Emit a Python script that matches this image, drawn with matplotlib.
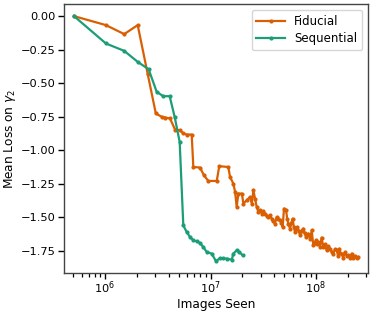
import numpy as np
import matplotlib
matplotlib.use("Agg")
import matplotlib.pyplot as plt

# fiducial run (images seen, mean loss)
fid_x = [5.08e5, 1.02e6, 1.52e6, 2.04e6, 2.54e6, 3.03e6, 3.45e6, 3.70e6, 4.13e6, 4.61e6,
         5.14e6, 5.52e6, 5.94e6, 6.63e6, 6.87e6, 7.94e6, 8.67e6, 9.52e6, 1.145e7, 1.21e7,
         1.475e7, 1.53e7, 1.645e7, 1.71e7, 1.77e7, 1.835e7, 1.98e7, 2.05e7, 2.20e7, 2.37e7,
         2.46e7, 2.55e7, 2.64e7, 2.74e7, 2.84e7, 2.95e7, 3.06e7, 3.17e7, 3.29e7, 3.41e7,
         3.53e7, 3.66e7, 3.80e7, 3.94e7, 4.08e7, 4.23e7, 4.39e7, 4.56e7, 4.70e7, 4.83e7,
         4.97e7, 5.20e7, 5.33e7, 5.46e7, 5.67e7, 5.85e7, 6.01e7, 6.15e7, 6.32e7, 6.50e7,
         6.65e7, 6.85e7, 7.05e7, 7.30e7, 7.58e7, 7.80e7, 8.04e7, 8.25e7, 8.45e7, 8.80e7,
         9.10e7, 9.42e7, 9.70e7, 1.00e8, 1.03e8, 1.05e8, 1.09e8, 1.13e8, 1.17e8, 1.21e8,
         1.26e8, 1.31e8, 1.36e8, 1.41e8, 1.46e8, 1.51e8, 1.57e8, 1.62e8, 1.66e8, 1.70e8,
         1.75e8, 1.81e8, 1.88e8, 1.95e8, 2.02e8, 2.10e8, 2.18e8, 2.26e8, 2.34e8, 2.43e8,
         2.52e8]
fid_y = [0.0, -0.067, -0.134, -0.067, -0.433, -0.726, -0.751, -0.756, -0.763, -0.846,
         -0.851, -0.875, -0.883, -0.883, -1.125, -1.129, -1.187, -1.229, -1.229, -1.119,
         -1.125, -1.199, -1.249, -1.311, -1.423, -1.323, -1.323, -1.398, -1.373, -1.349,
         -1.398, -1.299, -1.360, -1.423, -1.460, -1.448, -1.472, -1.455, -1.472, -1.490,
         -1.498, -1.485, -1.510, -1.530, -1.547, -1.500, -1.510, -1.522, -1.545, -1.572,
         -1.435, -1.448, -1.510, -1.547, -1.584, -1.540, -1.510, -1.570, -1.610, -1.590,
         -1.572, -1.600, -1.634, -1.600, -1.584, -1.620, -1.647, -1.630, -1.622, -1.660,
         -1.597, -1.709, -1.690, -1.672, -1.700, -1.684, -1.720, -1.651, -1.722, -1.700,
         -1.746, -1.715, -1.734, -1.760, -1.771, -1.740, -1.746, -1.790, -1.734, -1.770,
         -1.771, -1.800, -1.759, -1.790, -1.784, -1.800, -1.771, -1.805, -1.791, -1.800,
         -1.796]

# sequential run
seq_x = [5.08e5, 1.02e6, 1.52e6, 2.04e6, 2.59e6, 3.09e6, 3.57e6, 4.10e6, 4.57e6, 5.10e6,
         5.52e6, 5.94e6, 6.39e6, 6.87e6, 7.40e6, 7.94e6, 8.55e6, 9.20e6, 1.026e7, 1.127e7,
         1.23e7, 1.32e7, 1.425e7, 1.59e7, 1.645e7, 1.77e7, 1.876e7, 2.02e7]
seq_y = [0.0, -0.204, -0.259, -0.341, -0.396, -0.565, -0.597, -0.597, -0.751, -0.938,
         -1.560, -1.610, -1.647, -1.672, -1.680, -1.692, -1.722, -1.759, -1.771, -1.828,
         -1.804, -1.806, -1.808, -1.816, -1.771, -1.746, -1.759, -1.784]

fig = plt.figure(figsize=(3.74, 3.13), dpi=100)
ax = fig.add_axes([0.171, 0.128, 0.813, 0.859])

ax.plot(fid_x, fid_y, marker=".", markersize=4, lw=1.6, color="#d95f02", label="Fiducial")
ax.plot(seq_x, seq_y, marker=".", markersize=4, lw=1.6, color="#1b9e77", label="Sequential")

ax.set_xscale("log")
ax.set_xlim(4.08e5, 3.11e8)
ax.set_ylim(-1.915, 0.09)
ax.set_xlabel("Images Seen", fontsize=8.7, labelpad=1)
ax.set_ylabel("Mean Loss on $\\gamma_2$", fontsize=8.7, labelpad=2)
ax.set_yticks([0.0, -0.25, -0.5, -0.75, -1.0, -1.25, -1.5, -1.75])
ax.tick_params(axis="x", which="major", length=4, width=1, labelsize=8.2, pad=1)
ax.tick_params(axis="x", which="minor", length=3, width=0.9)
ax.tick_params(axis="y", which="major", length=4, width=1, labelsize=8.2, pad=2)
for s in ax.spines.values():
    s.set_color("#444444")
    s.set_linewidth(1)

ax.legend(loc="upper right", fontsize=8.5, handlelength=2.4, borderpad=0.4,
          labelspacing=0.4, handletextpad=0.8)

fig.savefig("out.png", dpi=100)
